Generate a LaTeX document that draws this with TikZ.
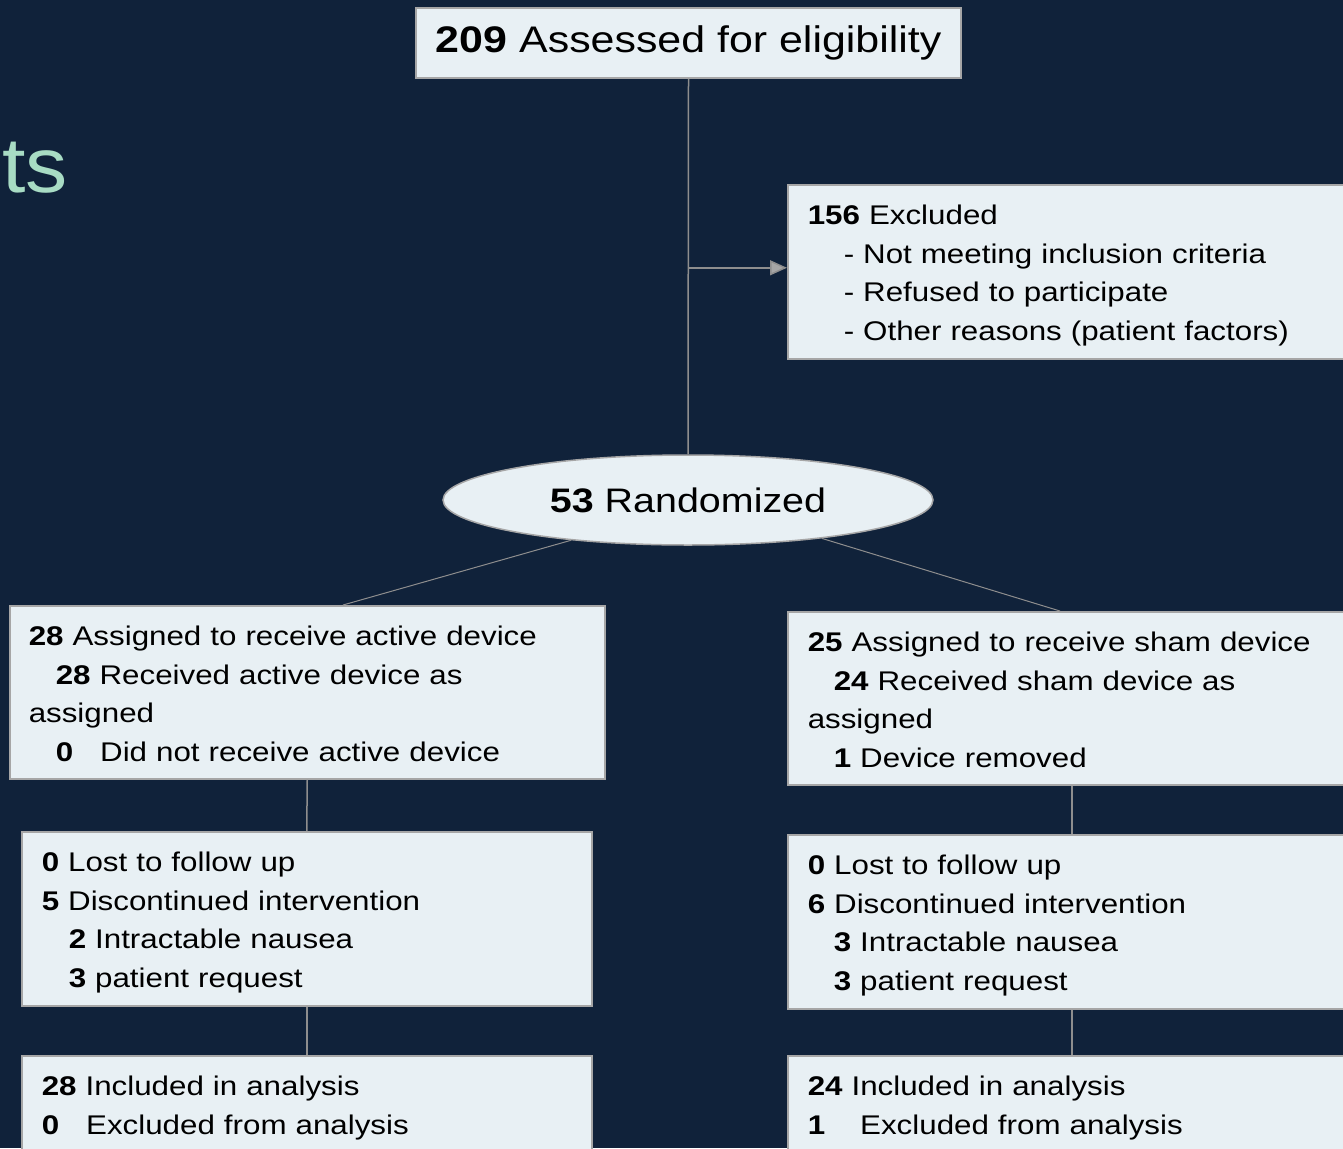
\documentclass[tikz,border=0pt]{standalone}
\usepackage{fontspec}
\setmainfont{Liberation Sans}[FakeStretch=1.16]
\newfontfamily\headfont{Liberation Sans}[FakeStretch=1.08]
\usepackage{xcolor}
\usepackage{tikz}
\usetikzlibrary{shapes,arrows.meta,positioning,calc}

\definecolor{navy}{HTML}{10223A}
\definecolor{boxfill}{HTML}{E8F0F4}
\definecolor{boxline}{HTML}{A6A6A6}
\definecolor{linkgray}{HTML}{8E8E8E}
\definecolor{mint}{HTML}{A8DCC4}

\begin{document}
\begin{tikzpicture}[x=1pt, y=-1pt,
    box/.style={rectangle, draw=boxline, line width=1.5pt, fill=boxfill, anchor=north west, align=left, inner xsep=20pt, inner ysep=13pt, font=\fontsize{27}{38.5}\selectfont, execute at begin node=\strut, execute at end node=\rule[-5pt]{0pt}{5pt}},
    topbox/.style={rectangle, draw=boxline, line width=1.5pt, fill=boxfill, minimum width=545pt, minimum height=70pt, inner sep=0pt, font=\fontsize{37}{40}\selectfont},
    oval/.style={ellipse, draw=boxline, line width=1.5pt, fill=boxfill, minimum width=490pt, minimum height=90pt, inner sep=0pt, font=\fontsize{34}{38}\selectfont},
    link/.style={draw=linkgray, line width=1.5pt},
    thinlink/.style={draw=linkgray, line width=1pt},
    arrow/.style={draw=linkgray, line width=1.5pt, -{Triangle[length=17pt, width=15pt, fill=boxline]}}
  ]
    % --- BACKGROUND ---
    \fill[navy] (0,0) rectangle (1343,1148);
    \useasboundingbox (0,0) rectangle (1343,1148);
    \clip (0,0) rectangle (1343,1148);
    \node[font=\headfont\fontsize{78}{80}\selectfont, text=mint, anchor=base east, inner sep=0pt] (ttl) at (68,192) {ts};

    % --- ENROLMENT ---
    \node[topbox] (elig) at (688.5,43) {\textbf{209} Assessed for eligibility};
    \node[box, text width=528pt] (excl) at (787,184) {\textbf{156} Excluded\\
      \hspace*{36pt}- Not meeting inclusion criteria\\
      \hspace*{36pt}- Refused to participate\\
      \hspace*{36pt}- Other reasons (patient factors)};
    \node[oval] (rand) at (688,500) {\textbf{53} Randomized};

    \coordinate (exclin) at ([yshift=4pt]excl.west);
    \coordinate (split) at (elig.south |- exclin);
    \draw[link] (elig.south) -- (rand.north);
    \draw[arrow] (split) -- (exclin);

    % --- ALLOCATION ---
    \node[box, text width=557pt, inner xsep=19pt] (act) at (9,605) {\textbf{28} Assigned to receive active device\\
      \hspace*{27pt}\textbf{28} Received active device as\\
      assigned\\
      \hspace*{27pt}\textbf{0}\hspace{27pt}Did not receive active device};
    \node[box, text width=528pt] (sham) at (787,611) {\textbf{25} Assigned to receive sham device\\
      \hspace*{26pt}\textbf{24} Received sham device as\\
      assigned\\
      \hspace*{26pt}\textbf{1} Device removed};

    \draw[thinlink] (rand.199) -- ([xshift=334pt]act.north west);
    \draw[thinlink] (rand.-16) -- ([xshift=273pt]sham.north west);

    % --- FOLLOW UP ---
    \node[box, text width=530pt] (actfu) at (21,831) {\textbf{0} Lost to follow up\\
      \textbf{5} Discontinued intervention\\
      \hspace*{27pt}\textbf{2} Intractable nausea\\
      \hspace*{27pt}\textbf{3} patient request};
    \node[box, text width=528pt] (shamfu) at (787,834) {\textbf{0} Lost to follow up\\
      \textbf{6} Discontinued intervention\\
      \hspace*{26pt}\textbf{3} Intractable nausea\\
      \hspace*{26pt}\textbf{3} patient request};

    \draw[link] (act.south) -- (actfu.north);
    \draw[link] (sham.south) -- (shamfu.north);

    % --- ANALYSIS ---
    \node[box, text width=530pt] (actan) at (21,1055) {\textbf{28} Included in analysis\\
      \textbf{0}\hspace{27pt}Excluded from analysis\\ };
    \node[box, text width=528pt] (shaman) at (787,1055) {\textbf{24} Included in analysis\\
      \textbf{1}\hspace{35pt}Excluded from analysis\\ };

    \draw[link] (actfu.south) -- (actan.north);
    \draw[link] (shamfu.south) -- (shaman.north);
\end{tikzpicture}
\end{document}
